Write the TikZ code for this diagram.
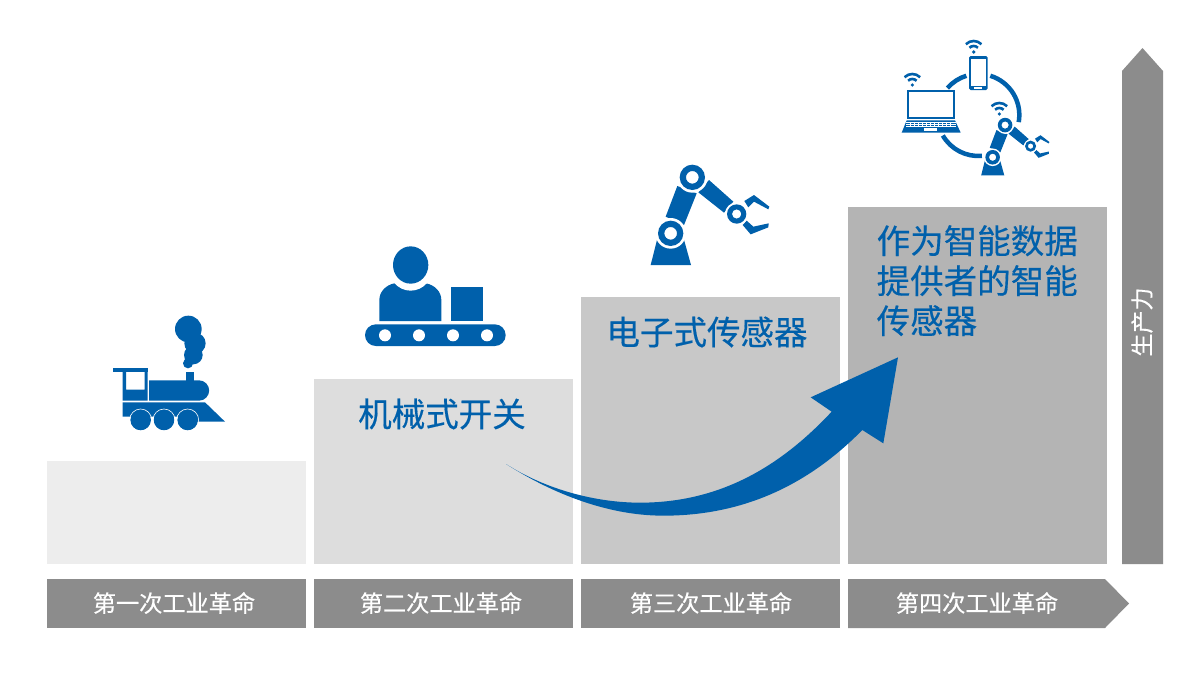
\documentclass[tikz,border=0pt]{standalone}
\usepackage{fontspec}
\setmainfont[RawFeature={embolden=0.4}]{Noto Sans CJK SC}
\definecolor{sblue}{HTML}{0060AB}
\definecolor{sgrey}{HTML}{8C8C8C}
\tikzset{
  stage/.style={minimum width=259pt,inner sep=0pt,outer sep=0pt,anchor=north west},
  era/.style={text=white,font=\fontsize{23.2}{23}\selectfont},
  headline/.style={text=sblue,font=\fontsize{33.5}{40}\selectfont,inner sep=0pt,align=left},
  zoomed/.style={shift={(#1)},scale=0.33333},
  wave/.style={draw=sblue,line width=2.6pt},
}
% robot arm, drawn in the 3x crop coordinates of the large one
\newcommand{\robotarm}{%
  \fill[sblue] (62,345)--(183,345)--(160,262)--(83,262)--cycle;
  \fill[sblue] (142,108)--(200,130)--(162,225)--(107,200)--cycle;
  \fill[sblue] (237,90)--(310,155)--(282,188)--(205,127)--cycle;
  \fill[sblue] (343,153)--(372,135)--(418,170)--(415,178)--(372,155)--(355,172)--cycle;
  \fill[sblue] (338,225)--(350,212)--(370,230)--(416,220)--(415,232)--(362,253)--cycle;
  \fill[white] (122,250) circle[radius=46pt];
  \fill[white] (187,82) circle[radius=46pt];
  \fill[white] (320,192) circle[radius=35pt];
  \fill[sblue,even odd rule] (122,250) circle[radius=38pt] (122,250) circle[radius=19pt];
  \fill[sblue,even odd rule] (187,82) circle[radius=38pt] (187,82) circle[radius=19pt];
  \fill[sblue,even odd rule] (320,192) circle[radius=29pt] (320,192) circle[radius=14pt];
}
% wifi symbol in the 3x crop coordinates
\newcommand{\wifi}[1]{%
  \fill[sblue] (#1) circle[radius=5.5pt];
  \draw[wave] ([shift={(135:18pt)}]#1) arc[start angle=135,end angle=45,radius=18pt];
  \draw[wave] ([shift={(135:33pt)}]#1) arc[start angle=135,end angle=45,radius=33pt];
}
\begin{document}
\begin{tikzpicture}[x=1pt,y=-1pt]
\useasboundingbox (0,0) rectangle (1200,675);
\fill[white] (0,0) rectangle (1200,675);
% stage blocks
\node[stage,fill=black!7,minimum height=103pt] (s1) at (47,461) {};
\node[stage,fill=black!13.5,minimum height=185pt] (s2) at (314,379) {};
\node[stage,fill=black!21.5,minimum height=267pt] (s3) at (581,297) {};
\node[stage,fill=black!29.5,minimum height=357pt] (s4) at (848,207) {};
% headings
\node[headline] (t2) at (442,414) {机械式开关};
\node[headline] (t3) at (707,332) {电子式传感器};
\node[headline,anchor=north west] (t4) at (876.5,225) {作为智能数据\\提供者的智能\\传感器};
% timeline
\fill[sgrey] (47,579) rectangle (306,628);
\fill[sgrey] (314,579) rectangle (573,628);
\fill[sgrey] (581,579) rectangle (840,628);
\fill[sgrey] (848,579) -- (1105,579) -- (1129,603.5) -- (1105,628) -- (848,628) -- cycle;
\node[era] (e1) at (174,603) {第一次工业革命};
\node[era] (e2) at (441,603) {第二次工业革命};
\node[era] (e3) at (711,603) {第三次工业革命};
\node[era] (e4) at (977,603) {第四次工业革命};
% productivity arrow
\fill[sgrey] (1122,564) -- (1122,71) -- (1142.5,48) -- (1163,71) -- (1163,564) -- cycle;
\node[text=white,rotate=90,font=\fontsize{23}{23}\selectfont] (p) at (1142,322) {生产力};
% sweeping arrow
\begin{scope}[zoomed={490,340}]
\fill[sblue] (48,372) .. controls (170,450) and (320,488) .. (450,488)
  .. controls (700,488) and (880,370) .. (1025,215)
  -- (962,172) -- (1224,52) -- (1180,310) -- (1117,270)
  .. controls (940,450) and (740,527) .. (520,527)
  .. controls (340,527) and (170,450) .. (48,372) -- cycle;
\end{scope}
% locomotive
\begin{scope}[zoomed={100,305}]
\fill[sblue] (265,72) circle[radius=40pt] (285,115) circle[radius=32pt] (280,150) circle[radius=28pt] (264,175) circle[radius=15pt];
\fill[sblue] (258,200) rectangle (283,230);
\fill[sblue] (147,226) -- (297,226) arc[start angle=90,end angle=-90,radius=30.5pt] -- (147,287) -- cycle;
\fill[sblue] (38,188) rectangle (143,200);
\fill[sblue,even odd rule] (68,200) rectangle (143,287) (78,200) rectangle (134,254);
\fill[sblue] (68,292) -- (315,292) -- (375,350) -- (290,350) -- (290,335) -- (68,335) -- cycle;
\foreach \cx in {122,192,263}{
  \fill[sblue] (\cx,345) circle[radius=31pt];
  \draw[white,line width=.6pt] (\cx,345) circle[radius=33pt];
}
\end{scope}
% worker at conveyor
\begin{scope}[zoomed={350,235}]
\fill[sblue] (88,258) -- (88,195) .. controls (88,170) and (108,150) .. (133,145) -- (228,145) .. controls (254,150) and (274,170) .. (274,195) -- (274,258) -- cycle;
\fill[white] (182,90) ellipse[x radius=69pt,y radius=77pt];
\fill[sblue] (182,90) ellipse[x radius=53pt,y radius=56pt];
\fill[sblue] (303,155) rectangle (400,258);
\fill[sblue,rounded corners=10.8pt] (45,268) rectangle (467,333);
\foreach \cx in {105,207,309,411}{ \fill[white] (\cx,301) circle[radius=18pt]; }
\end{scope}
% large robot
\begin{scope}[zoomed={630,150}]
\robotarm
\end{scope}
% connected devices
\begin{scope}[zoomed={880,30}]
\draw[sblue,line width=4.5pt] ([shift={(-10:123pt)}]295,255) arc[start angle=-10,end angle=73,radius=123pt];
\draw[sblue,line width=4.5pt] ([shift={(107:123pt)}]295,255) arc[start angle=107,end angle=139,radius=123pt];
\draw[sblue,line width=4.5pt] ([shift={(210:123pt)}]295,255) arc[start angle=210,end angle=275,radius=123pt];
% phone
\fill[sblue,rounded corners=1.5pt] (267,78) rectangle (323,180);
\fill[white] (272,88) rectangle (318,168);
\fill[white] (283,172) rectangle (307,177);
% laptop
\fill[sblue] (80,180) rectangle (225,268);
\fill[white] (86,186) rectangle (219,262);
\fill[sblue] (80,271) -- (225,271) -- (242,308) -- (65,308) -- cycle;
\foreach \yy in {277,283,289}{ \draw[white,line width=.35pt] (78,\yy) -- (228,\yy); }
\foreach \xx in {90,102,114,126,138,150,162,174,186,198,210}{ \draw[white,line width=.35pt] (\xx,275) -- (\xx,292); }
\fill[white] (132,295) rectangle (172,303);
\wifi{281,66}
\wifi{97,165}
\wifi{358,252}
\end{scope}
\begin{scope}[shift={(607,23.1)},scale=0.575]
\begin{scope}[zoomed={630,150}]
\robotarm
\end{scope}
\end{scope}
\end{tikzpicture}
\end{document}
